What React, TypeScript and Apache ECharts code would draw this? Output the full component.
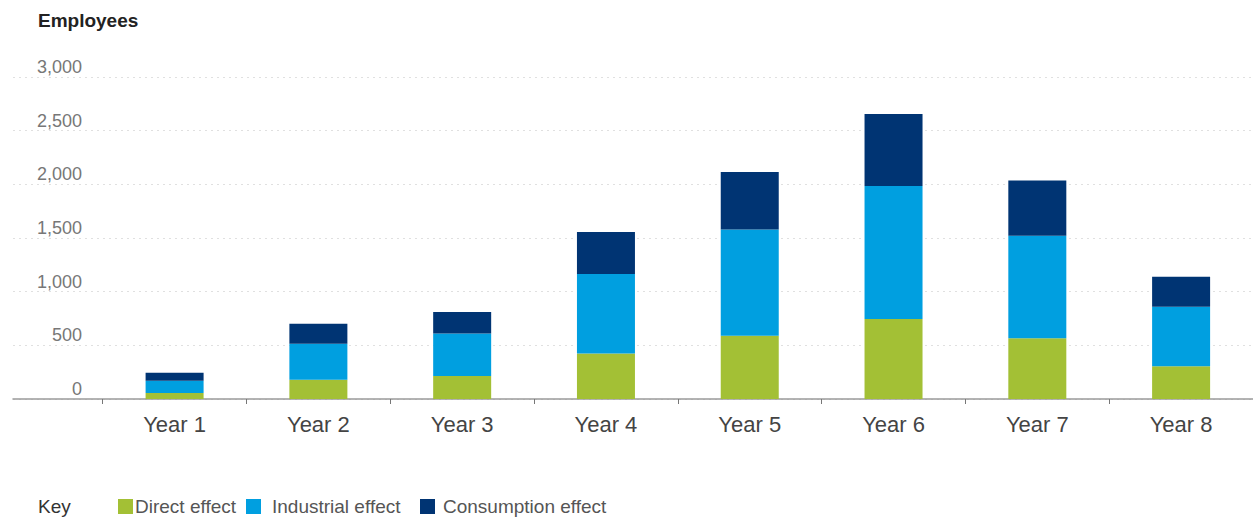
import React, { useEffect, useRef } from "react";
import * as echarts from "echarts";

const categories = ["Year 1", "Year 2", "Year 3", "Year 4", "Year 5", "Year 6", "Year 7", "Year 8"];
const directEffect = [55, 180, 215, 425, 590, 745, 565, 305];
const industrialEffect = [115, 335, 395, 740, 990, 1240, 955, 555];
const consumptionEffect = [75, 185, 200, 390, 535, 670, 515, 280];
const seriesNames = ["Direct effect", "Industrial effect", "Consumption effect"];
const yMax = 3000;
const yInterval = 500;

const FONT = "'Liberation Sans', Arial, Helvetica, sans-serif";

export default function App() {
  const ref = useRef<HTMLDivElement>(null);
  useEffect(() => {
    if (!ref.current) return;
    const chart = echarts.init(ref.current, null, { renderer: "svg" });
    const gridTop = 77;
    const gridBottom = 118;
    const legendLefts = [118, 246, 420];
    const legendTextPad = [0, 6, 3];
    chart.setOption({
      animation: false,
      textStyle: { fontFamily: FONT },
      title: {
        text: "Employees",
        left: 38,
        top: 11,
        padding: 0,
        textStyle: { fontFamily: FONT, fontSize: 19, fontWeight: "bold", color: "#222" },
      },
      graphic: [
        {
          type: "text",
          left: 38,
          top: 497,
          style: { text: "Key", font: `19px ${FONT}`, fill: "#333" },
        },
      ],
      legend: seriesNames.map((name, i) => ({
        left: legendLefts[i],
        top: 497,
        padding: 0,
        icon: "rect",
        itemWidth: 15,
        itemHeight: 15,
        textStyle: {
          fontFamily: FONT,
          fontSize: 19,
          color: "#555",
          padding: [0, 0, 0, i === 0 ? -3 : legendTextPad[i]],
        },
        data: [name],
      })),
      grid: [
        { left: 13, right: 0, top: gridTop, bottom: gridBottom },
        { left: 102.7, width: 144.5 * 8, top: gridTop, bottom: gridBottom },
      ],
      xAxis: [
        {
          gridIndex: 0,
          type: "value",
          min: 0,
          max: 1,
          axisLine: { show: true, lineStyle: { color: "#9a9a9a", width: 1.5 } },
          axisTick: { show: false },
          axisLabel: { show: false },
          splitLine: { show: false },
        },
        {
          gridIndex: 1,
          type: "category",
          data: categories,
          axisLine: { show: false },
          axisTick: { show: true, length: 5, lineStyle: { color: "#777", width: 1 } },
          axisLabel: { fontFamily: FONT, fontSize: 22, color: "#444", margin: 14 },
        },
      ],
      yAxis: [
        {
          gridIndex: 0,
          type: "value",
          min: 0,
          max: yMax,
          interval: yInterval,
          axisLine: { show: false },
          axisTick: { show: false },
          axisLabel: {
            fontFamily: FONT,
            fontSize: 18,
            color: "#777",
            margin: -69,
            verticalAlign: "bottom",
            padding: [0, 0, 1, 0],
            formatter: (v: number) => v.toLocaleString("en-US"),
          },
          splitLine: { show: true, lineStyle: { color: "#e0e0e0", type: [2, 4], width: 1 } },
        },
        {
          gridIndex: 1,
          type: "value",
          min: 0,
          max: yMax,
          interval: yInterval,
          show: false,
          splitLine: { show: false },
        },
      ],
      series: [
        {
          name: seriesNames[0],
          type: "bar",
          stack: "total",
          xAxisIndex: 1,
          yAxisIndex: 1,
          barWidth: 58,
          data: directEffect,
          itemStyle: { color: "#a3c035" },
        },
        {
          name: seriesNames[1],
          type: "bar",
          stack: "total",
          xAxisIndex: 1,
          yAxisIndex: 1,
          barWidth: 58,
          data: industrialEffect,
          itemStyle: { color: "#009fe0" },
        },
        {
          name: seriesNames[2],
          type: "bar",
          stack: "total",
          xAxisIndex: 1,
          yAxisIndex: 1,
          barWidth: 58,
          data: consumptionEffect,
          itemStyle: { color: "#003473" },
        },
      ],
    });
    return () => chart.dispose();
  }, []);
  return (
    <div
      ref={ref}
      style={{ position: "fixed", left: 0, top: 0, width: 1253, height: 517, background: "#fff" }}
    />
  );
}
